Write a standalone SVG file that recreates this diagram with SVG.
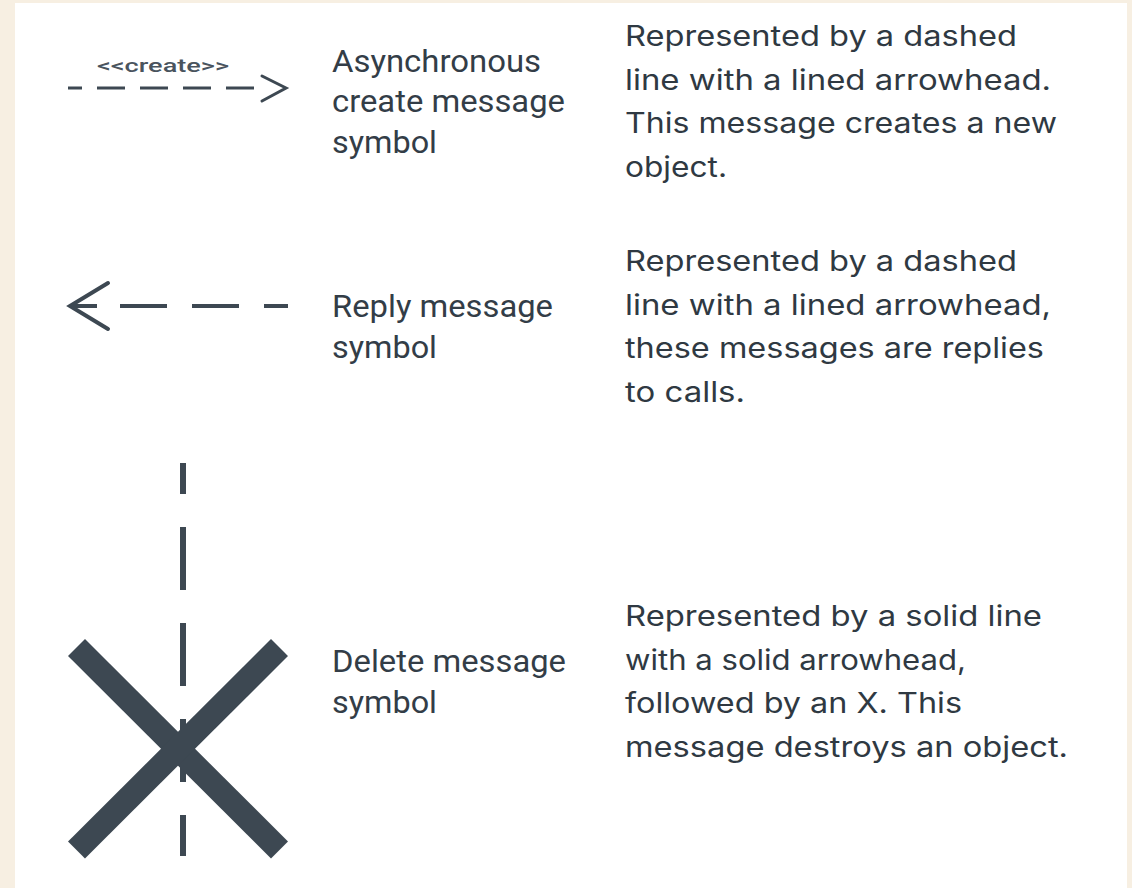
<svg xmlns="http://www.w3.org/2000/svg" width="1132" height="888" viewBox="0 0 1132 888">
<style>
.sym{fill:none;stroke:#3d4852;}
.mid{font-family:Roboto,"Liberation Sans",sans-serif;font-size:31px;fill:#333d47;}
.desc{font-family:Inter,"Liberation Sans",sans-serif;font-size:28px;fill:#2f3942;}
.stereo{font-family:Roboto,"Liberation Sans",sans-serif;font-size:18px;font-weight:500;fill:#4a545e;}
</style>
<rect x="0" y="0" width="1132" height="888" fill="#f7efe2"/>
<rect x="15" y="3" width="1112" height="885" fill="#ffffff"/>

<g id="create-row">
  <text class="stereo" x="97" y="72" textLength="132" lengthAdjust="spacingAndGlyphs">&lt;&lt;create&gt;&gt;</text>
  <line class="sym" x1="68" y1="88" x2="256" y2="88" stroke-width="3" stroke-dasharray="28 15" stroke-dashoffset="14"/>
  <polyline class="sym" points="262,76 286,88 262,101" stroke-width="3" stroke-linecap="round" stroke-linejoin="miter"/>
  <text class="mid" x="332" y="72" textLength="209" lengthAdjust="spacingAndGlyphs">Asynchronous</text>
  <text class="mid" x="332" y="112" textLength="233" lengthAdjust="spacingAndGlyphs">create message</text>
  <text class="mid" x="332" y="153" textLength="105" lengthAdjust="spacingAndGlyphs">symbol</text>
  <text class="desc" x="625" y="46" textLength="392" lengthAdjust="spacingAndGlyphs">Represented by a dashed</text>
  <text class="desc" x="625" y="89.5" textLength="426" lengthAdjust="spacingAndGlyphs">line with a lined arrowhead.</text>
  <text class="desc" x="625" y="133" textLength="432" lengthAdjust="spacingAndGlyphs">This message creates a new</text>
  <text class="desc" x="625" y="177" textLength="102" lengthAdjust="spacingAndGlyphs">object.</text>
</g>

<g id="reply-row">
  <polyline class="sym" points="108,283 70,306 108,329" stroke-width="4" stroke-linecap="round"/>
  <line class="sym" x1="70" y1="306" x2="97" y2="306" stroke-width="4"/>
  <line class="sym" x1="120" y1="306" x2="288" y2="306" stroke-width="4" stroke-dasharray="47 25"/>
  <text class="mid" x="332" y="317" textLength="221" lengthAdjust="spacingAndGlyphs">Reply message</text>
  <text class="mid" x="332" y="358" textLength="105" lengthAdjust="spacingAndGlyphs">symbol</text>
  <text class="desc" x="625" y="271" textLength="392" lengthAdjust="spacingAndGlyphs">Represented by a dashed</text>
  <text class="desc" x="625" y="314.5" textLength="426" lengthAdjust="spacingAndGlyphs">line with a lined arrowhead,</text>
  <text class="desc" x="625" y="358" textLength="419" lengthAdjust="spacingAndGlyphs">these messages are replies</text>
  <text class="desc" x="625" y="402" textLength="120" lengthAdjust="spacingAndGlyphs">to calls.</text>
</g>

<g id="delete-row">
  <line class="sym" x1="183" y1="463" x2="183" y2="856" stroke-width="6" stroke-dasharray="63 33" stroke-dashoffset="32"/>
  <line class="sym" x1="76.5" y1="647.5" x2="279.5" y2="850" stroke-width="24"/>
  <line class="sym" x1="279.5" y1="647.5" x2="76.5" y2="850" stroke-width="24"/>
  <text class="mid" x="332" y="672" textLength="234" lengthAdjust="spacingAndGlyphs">Delete message</text>
  <text class="mid" x="332" y="713" textLength="105" lengthAdjust="spacingAndGlyphs">symbol</text>
  <text class="desc" x="625" y="626" textLength="417" lengthAdjust="spacingAndGlyphs">Represented by a solid line</text>
  <text class="desc" x="625" y="669.5" textLength="341" lengthAdjust="spacingAndGlyphs">with a solid arrowhead,</text>
  <text class="desc" x="625" y="713" textLength="337" lengthAdjust="spacingAndGlyphs">followed by an X. This</text>
  <text class="desc" x="625" y="757" textLength="443" lengthAdjust="spacingAndGlyphs">message destroys an object.</text>
</g>
</svg>
